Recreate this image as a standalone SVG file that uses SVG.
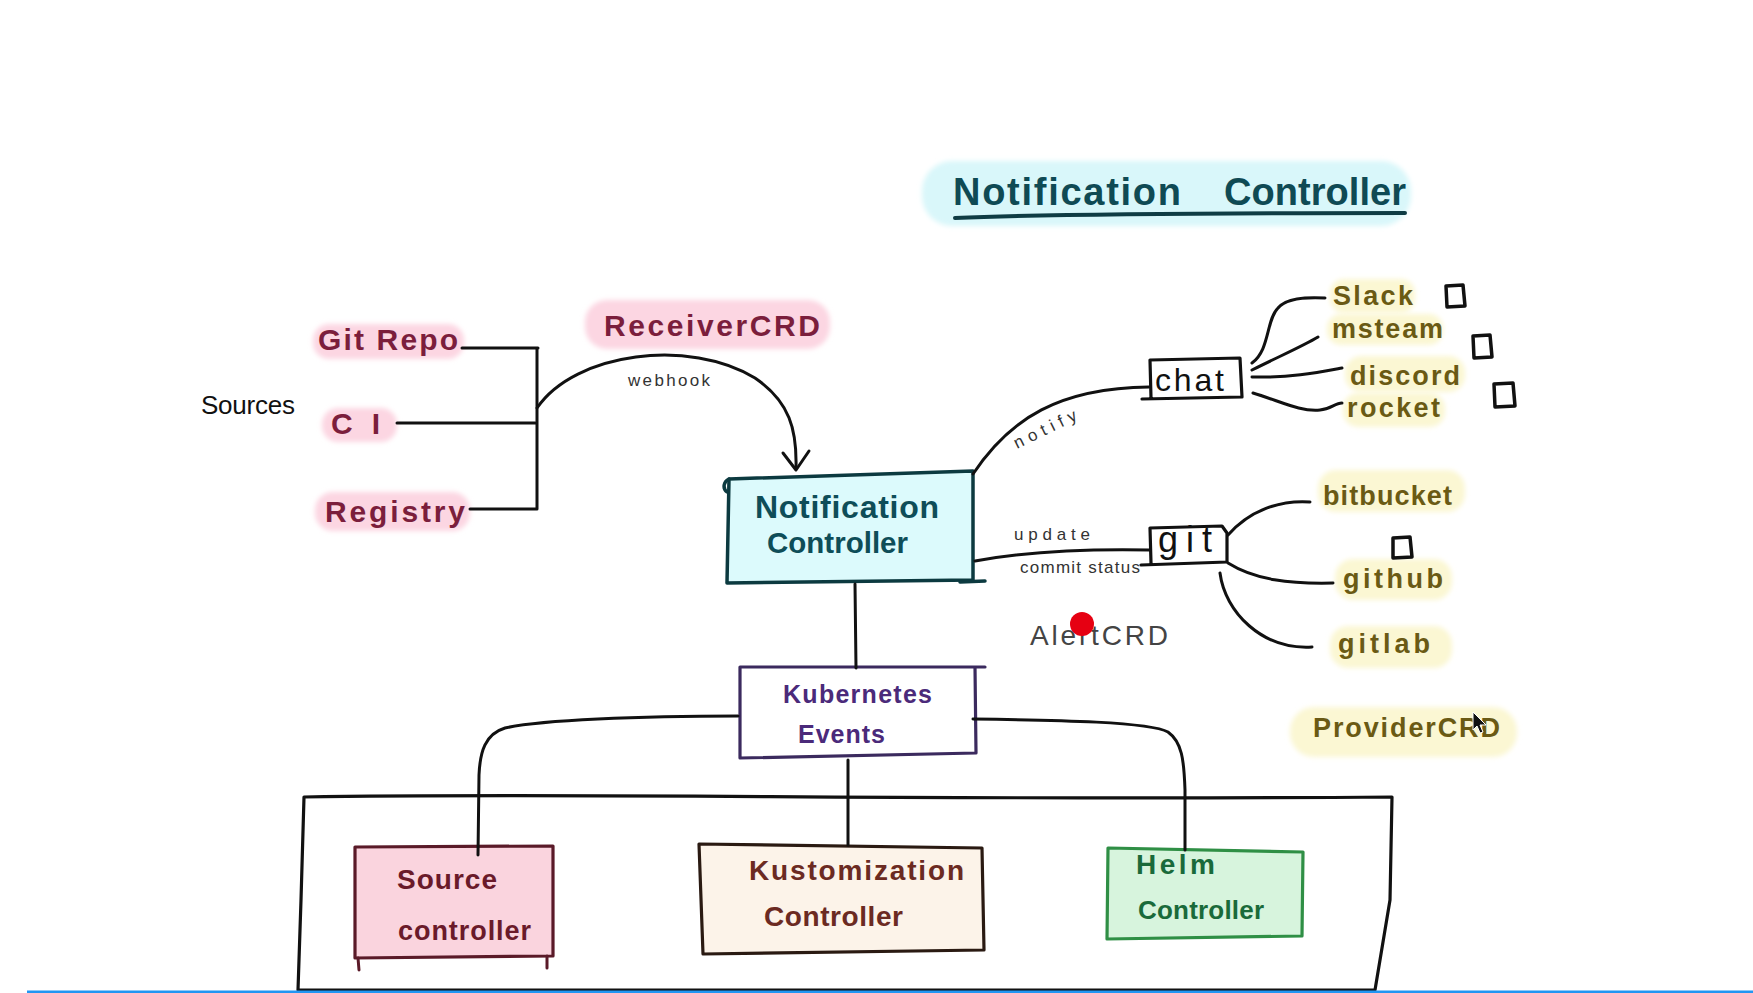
<svg xmlns="http://www.w3.org/2000/svg" width="1753" height="993" viewBox="0 0 1753 993">
<style>
  text { font-family: "Liberation Sans", "DejaVu Sans", sans-serif; }
  .ln { fill: none; stroke: #111; stroke-width: 3; stroke-linecap: round; stroke-linejoin: round; }
  .pk { fill: #fcd6e2; }
  .yl { fill: #fbf7d3; }
  .pkt { fill: #7b1e3c; font-weight: bold; font-size: 30px; }
  .ylt { fill: #6a5a14; font-weight: bold; font-size: 27px; }
  .sm { fill: #333; font-size: 17px; }
  .sq { fill: none; stroke: #111; stroke-width: 3.5; stroke-linejoin: round; }
</style>
<defs>
  <filter id="soft" x="-10%" y="-30%" width="120%" height="160%"><feGaussianBlur stdDeviation="2.5"/></filter>
</defs>
<rect width="1753" height="993" fill="#ffffff"/>

<!-- Title -->
<g id="title">
  <rect x="922" y="161" width="489" height="65" rx="30" fill="#d9f7fa" filter="url(#soft)"/>
  <text y="205" font-size="38" font-weight="bold" fill="#0f4a54"><tspan x="953" textLength="228" lengthAdjust="spacing">Notification</tspan> <tspan x="1224" textLength="182" lengthAdjust="spacing">Controller</tspan></text>
  <path d="M955,218 C1050,214 1200,213 1405,213" fill="none" stroke="#0f3c44" stroke-width="4" stroke-linecap="round"/>
</g>

<!-- Sources -->
<g id="sources">
  <text x="201" y="414" font-size="26" fill="#111" textLength="94" lengthAdjust="spacing">Sources</text>
</g>
<g id="git-repo">
  <rect class="pk" x="313" y="324" width="151" height="35" rx="16" filter="url(#soft)"/>
  <text class="pkt" x="318" y="350" textLength="140" lengthAdjust="spacing">Git Repo</text>
</g>
<g id="ci">
  <rect class="pk" x="322" y="408" width="75" height="34" rx="16" filter="url(#soft)"/>
  <text class="pkt" x="331" y="434" textLength="49" lengthAdjust="spacing">CI</text>
</g>
<g id="registry">
  <rect class="pk" x="315" y="492" width="155" height="39" rx="18" filter="url(#soft)"/>
  <text class="pkt" x="325" y="522" textLength="140" lengthAdjust="spacing">Registry</text>
</g>
<g id="receiver-crd">
  <rect class="pk" x="585" y="300" width="245" height="49" rx="22" filter="url(#soft)"/>
  <text class="pkt" x="604" y="336" font-size="31" textLength="216" lengthAdjust="spacing">ReceiverCRD</text>
</g>

<!-- Notification Controller -->
<g id="notification-controller">
  <path d="M729,479 L973,471 L973,580 L727,583 Z" fill="#dcfafc" stroke="#0c3a40" stroke-width="3.5" stroke-linejoin="round"/>
  <path d="M727,492 C722,488 724,481 729,479 M960,582 L985,581" fill="none" stroke="#0c3a40" stroke-width="3.5" stroke-linecap="round"/>
  <text x="755" y="518" font-size="32" font-weight="bold" fill="#0e4d58" textLength="184" lengthAdjust="spacing">Notification</text>
  <text x="767" y="553" font-size="30" font-weight="bold" fill="#0e4d58" textLength="141" lengthAdjust="spacingAndGlyphs">Controller</text>
</g>

<!-- Kubernetes Events -->
<g id="kubernetes-events">
  <path d="M740,667 L985,667 M975,667 L976,753 L740,758 L740,667" fill="#ffffff" stroke="#3b2a5e" stroke-width="3.2" stroke-linejoin="round" stroke-linecap="round"/>
  <text x="783" y="703" font-size="25" font-weight="bold" fill="#4b2a7a" textLength="149" lengthAdjust="spacing">Kubernetes</text>
  <text x="798" y="743" font-size="25" font-weight="bold" fill="#4b2a7a" textLength="87" lengthAdjust="spacing">Events</text>
</g>

<!-- Container -->
<g id="controllers-group">
  <path d="M304,797 C600,792 900,801 1392,797 L1390,900 L1375,990 L298,990 L301,900 Z" fill="none" stroke="#111" stroke-width="3.2" stroke-linejoin="round"/>
</g>

<g id="source-controller">
  <path d="M355,847 L553,846 L553,956 L355,958 Z" fill="#fad4de" stroke="#5a1a28" stroke-width="3.2" stroke-linejoin="round"/>
  <path d="M358,958 L359,970 M547,956 L547,968" fill="none" stroke="#5a1a28" stroke-width="3" stroke-linecap="round"/>
  <text x="397" y="889" font-size="28" font-weight="bold" fill="#6a1a2a" textLength="100" lengthAdjust="spacing">Source</text>
  <text x="398" y="940" font-size="27" font-weight="bold" fill="#6a1a2a" textLength="133" lengthAdjust="spacing">controller</text>
</g>

<g id="kustomization-controller">
  <path d="M699,844 L982,848 L984,950 L703,954 Z" fill="#fcf3e9" stroke="#2a1a12" stroke-width="3.2" stroke-linejoin="round"/>
  <text x="749" y="880" font-size="28" font-weight="bold" fill="#6b2a22" textLength="215" lengthAdjust="spacing">Kustomization</text>
  <text x="764" y="926" font-size="28" font-weight="bold" fill="#6b2a22" textLength="139" lengthAdjust="spacing">Controller</text>
</g>

<g id="helm-controller">
  <path d="M1108,848 L1303,852 L1302,936 L1107,939 Z" fill="#d7f4dd" stroke="#2f8f45" stroke-width="3.2" stroke-linejoin="round"/>
  <text x="1136" y="874" font-size="28" font-weight="bold" fill="#1a6a3a" textLength="79" lengthAdjust="spacing">Helm</text>
  <text x="1138" y="919" font-size="26" font-weight="bold" fill="#1a6a3a" textLength="126" lengthAdjust="spacing">Controller</text>
</g>

<!-- chat / git -->
<g id="chat">
  <path d="M1150,360 L1240,358 L1242,397 L1142,399 M1150,360 L1151,398" fill="none" stroke="#111" stroke-width="3.2" stroke-linejoin="round" stroke-linecap="round"/>
  <text x="1155" y="391" font-size="32" fill="#111" textLength="69" lengthAdjust="spacing">chat</text>
</g>
<g id="git">
  <path d="M1150,528 L1222,526 L1227,533 L1227,562 L1141,565 M1150,528 L1151,563" fill="none" stroke="#111" stroke-width="3.2" stroke-linejoin="round" stroke-linecap="round"/>
  <text x="1158" y="552" font-size="36" fill="#111" textLength="54" lengthAdjust="spacing">git</text>
</g>

<!-- chat targets -->
<g id="slack">
  <rect class="yl" x="1330" y="279" width="85" height="34" rx="14" filter="url(#soft)"/>
  <text class="ylt" x="1333" y="305" textLength="80" lengthAdjust="spacing">Slack</text>
</g>
<g id="msteam">
  <rect class="yl" x="1327" y="314" width="116" height="31" rx="14" filter="url(#soft)"/>
  <text class="ylt" x="1332" y="338" textLength="111" lengthAdjust="spacing">msteam</text>
</g>
<g id="discord">
  <rect class="yl" x="1345" y="356" width="120" height="36" rx="16" filter="url(#soft)"/>
  <text class="ylt" x="1350" y="385" textLength="110" lengthAdjust="spacing">discord</text>
</g>
<g id="rocket">
  <rect class="yl" x="1343" y="393" width="102" height="34" rx="15" filter="url(#soft)"/>
  <text class="ylt" x="1347" y="417" textLength="93" lengthAdjust="spacing">rocket</text>
</g>

<!-- git targets -->
<g id="bitbucket">
  <rect class="yl" x="1318" y="470" width="147" height="42" rx="18" filter="url(#soft)"/>
  <text class="ylt" x="1323" y="505" textLength="129" lengthAdjust="spacing">bitbucket</text>
</g>
<g id="github">
  <rect class="yl" x="1335" y="559" width="117" height="41" rx="18" filter="url(#soft)"/>
  <text class="ylt" x="1343" y="588" textLength="100" lengthAdjust="spacing">github</text>
</g>
<g id="gitlab">
  <rect class="yl" x="1330" y="626" width="122" height="42" rx="18" filter="url(#soft)"/>
  <text class="ylt" x="1338" y="653" textLength="92" lengthAdjust="spacing">gitlab</text>
</g>
<g id="provider-crd">
  <rect class="yl" x="1290" y="707" width="227" height="50" rx="24" filter="url(#soft)"/>
  <text class="ylt" x="1313" y="737" font-size="28" textLength="187" lengthAdjust="spacing">ProviderCRD</text>
</g>

<g id="alert-crd">
  <text x="1030" y="645" font-size="28" fill="#444" textLength="138" lengthAdjust="spacing">AlertCRD</text>
  <circle cx="1082" cy="624" r="12" fill="#e60012"/>
</g>

<!-- small squares -->
<g id="marks">
  <path class="sq" d="M1446,286 L1463,285 L1465,306 L1447,307 Z"/>
  <path class="sq" d="M1473,336 L1490,335 L1492,357 L1474,358 Z"/>
  <path class="sq" d="M1494,384 L1513,383 L1515,406 L1495,407 Z"/>
  <path class="sq" d="M1393,538 L1410,537 L1412,557 L1393,558 Z"/>
</g>

<!-- Connectors -->
<g id="connectors">
  <!-- sources bracket -->
  <path class="ln" d="M462,348 L538,348 M537,348 L537,509 M397,423 L535,423 M470,509 L537,509"/>
  <!-- webhook -->
  <path class="ln" d="M537,408 C575,352 690,338 755,378 C790,402 797,430 796,468"/>
  <path class="ln" d="M783,453 L796,470 L809,451"/>
  <text class="sm" x="628" y="386" textLength="82" lengthAdjust="spacing">webhook</text>
  <!-- notify -->
  <path class="ln" d="M973,474 C1010,418 1060,388 1149,387"/>
  <text class="sm" x="0" y="0" transform="translate(1017,449) rotate(-26)" textLength="68" lengthAdjust="spacing">notify</text>
  <!-- update commit status -->
  <path class="ln" d="M975,561 C1030,551 1100,549 1150,550"/>
  <text class="sm" x="1014" y="540" textLength="76" lengthAdjust="spacing">update</text>
  <text class="sm" x="1020" y="573" textLength="120" lengthAdjust="spacing">commit status</text>
  <!-- chat fan -->
  <path class="ln" d="M1252,363 C1270,350 1266,320 1278,308 C1286,298 1305,297 1325,298"/>
  <path class="ln" d="M1252,370 C1280,356 1303,346 1318,337"/>
  <path class="ln" d="M1252,377 C1290,378 1320,372 1342,368"/>
  <path class="ln" d="M1253,393 C1280,401 1300,412 1320,410 C1331,409 1335,403 1342,403"/>
  <!-- git fan -->
  <path class="ln" d="M1228,535 C1250,510 1280,500 1310,502"/>
  <path class="ln" d="M1228,563 C1255,580 1290,584 1333,583"/>
  <path class="ln" d="M1220,573 C1225,612 1262,650 1312,647"/>
  <!-- NC to Kubernetes events -->
  <path class="ln" d="M855,584 L856,668"/>
  <!-- Kubernetes events to controllers -->
  <path class="ln" d="M738,716 C640,716 540,720 505,728 C485,734 480,752 479,775 L478,855"/>
  <path class="ln" d="M848,760 L848,845"/>
  <path class="ln" d="M973,719 C1060,720 1150,722 1168,732 C1182,742 1184,760 1185,790 L1185,850"/>
</g>

<!-- cursor -->
<g id="cursor">
  <path d="M1473,712 L1473,730 L1477,726 L1480,733 L1483,732 L1480,725 L1486,725 Z" fill="#111" stroke="#fff" stroke-width="1"/>
</g>

<rect x="27" y="990.5" width="1726" height="2.5" fill="#2196f3"/>
</svg>
